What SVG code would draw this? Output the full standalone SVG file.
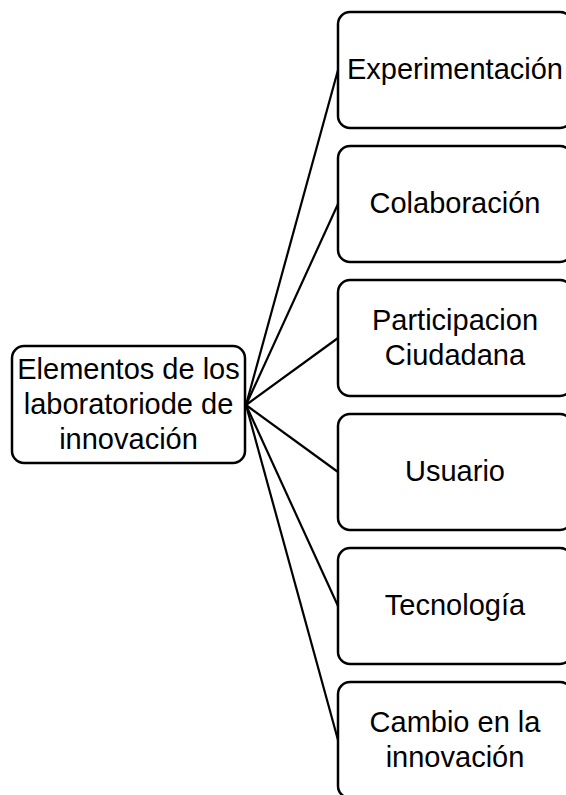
<svg xmlns="http://www.w3.org/2000/svg" width="566" height="795" viewBox="0 0 566 795">
<style>
.box{fill:#fff;stroke:#000;stroke-width:2.5}
.t{font-family:"Liberation Sans",Arial,sans-serif;font-size:29px;fill:#000;text-anchor:middle}
.c line{stroke:#000;stroke-width:2.2}
</style>
<rect width="566" height="795" fill="#fff"/>
<g class="c" id="connectors">
<line x1="246" y1="405" x2="338" y2="70"/>
<line x1="246" y1="405" x2="338" y2="204"/>
<line x1="246" y1="405" x2="338" y2="338"/>
<line x1="246" y1="405" x2="338" y2="472"/>
<line x1="246" y1="405" x2="338" y2="606"/>
<line x1="246" y1="405" x2="338" y2="740"/>
</g>
<g id="root">
<rect class="box" x="12" y="346" width="233" height="117" rx="12"/>
<text class="t" x="128.5" y="379">Elementos de los</text>
<text class="t" x="128.5" y="414">laboratoriode de</text>
<text class="t" x="128.5" y="449">innovación</text>
</g>
<g id="n1">
<rect class="box" x="338" y="12" width="234" height="116" rx="12"/>
<text class="t" x="455" y="79">Experimentación</text>
</g>
<g id="n2">
<rect class="box" x="338" y="146" width="234" height="116" rx="12"/>
<text class="t" x="455" y="213">Colaboración</text>
</g>
<g id="n3">
<rect class="box" x="338" y="280" width="234" height="116" rx="12"/>
<text class="t" x="455" y="330">Participacion</text>
<text class="t" x="455" y="365">Ciudadana</text>
</g>
<g id="n4">
<rect class="box" x="338" y="414" width="234" height="116" rx="12"/>
<text class="t" x="455" y="481">Usuario</text>
</g>
<g id="n5">
<rect class="box" x="338" y="548" width="234" height="116" rx="12"/>
<text class="t" x="455" y="615">Tecnología</text>
</g>
<g id="n6">
<rect class="box" x="338" y="682" width="234" height="116" rx="12"/>
<text class="t" x="455" y="732">Cambio en la</text>
<text class="t" x="455" y="767">innovación</text>
</g>
</svg>
